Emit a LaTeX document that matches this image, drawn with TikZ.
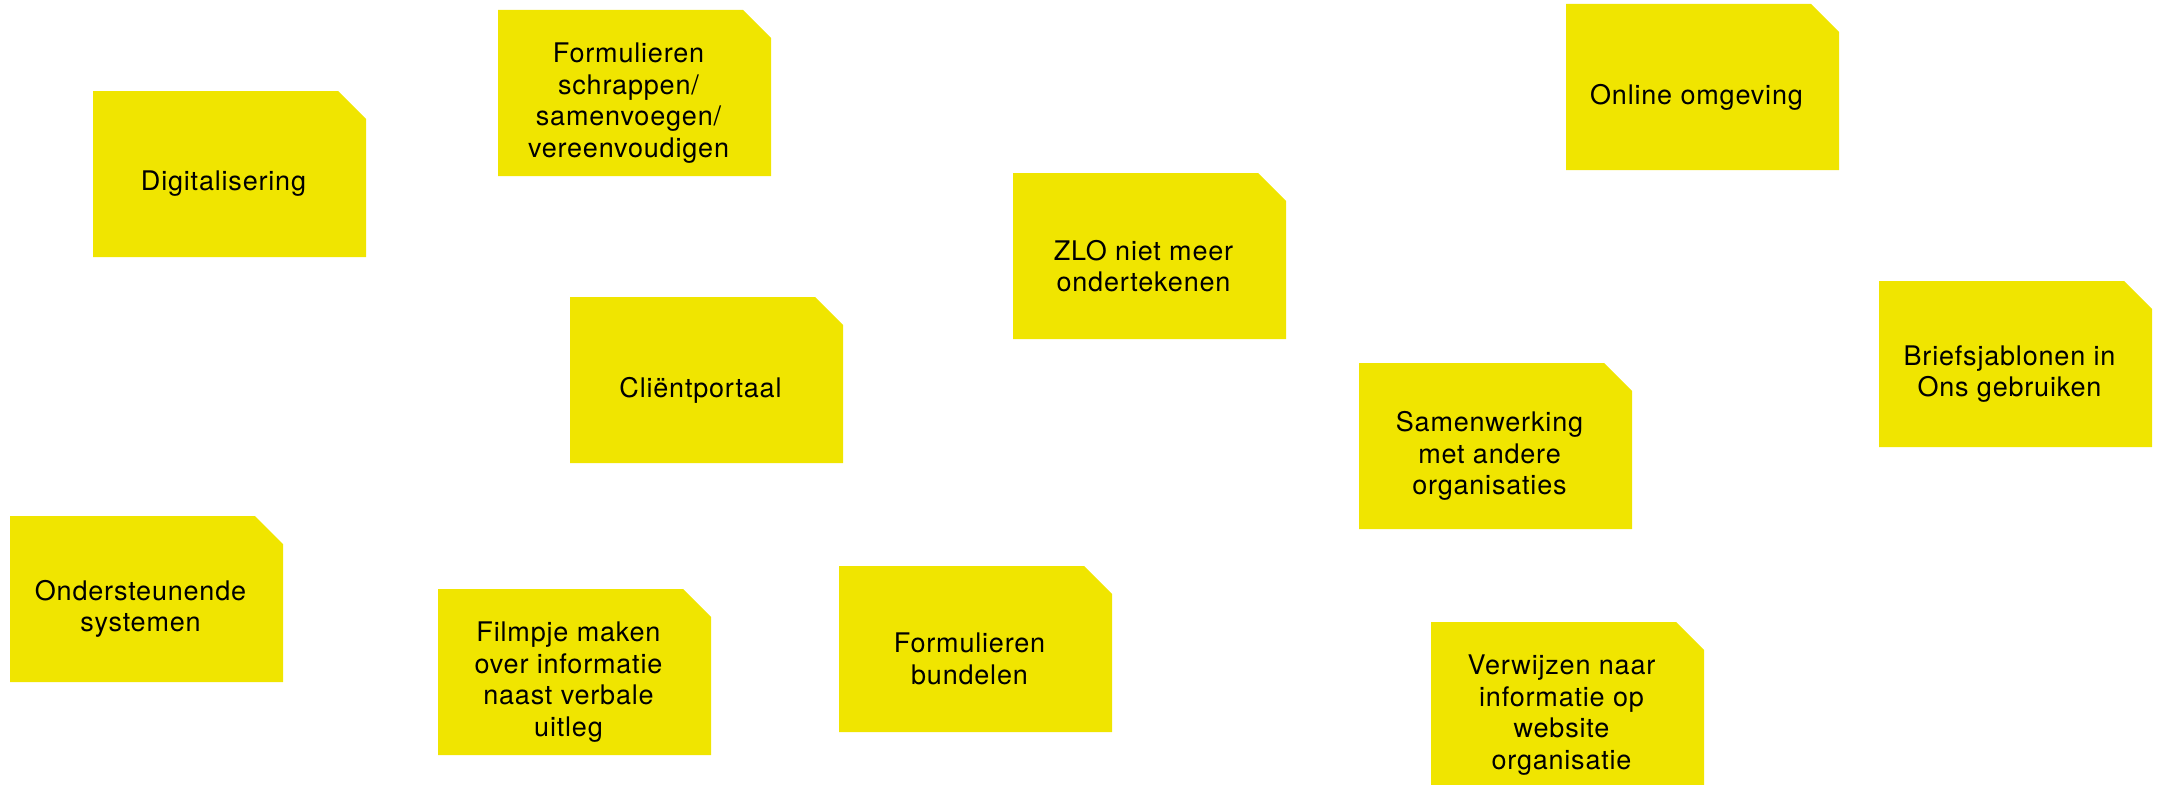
\documentclass[tikz,border=0pt]{standalone}
\usepackage{fontspec}
\newfontfamily\notefont[LetterSpace=3]{TeX Gyre Heros}
\definecolor{notey}{RGB}{240,229,0}

\tikzset{
  notefill/.style={fill=notey, draw=none},
  notetext/.style={font=\notefont\fontsize{27}{31.5}\selectfont,
    align=center, text=black, inner sep=0pt, xshift=-6pt, yshift=-10pt},
}

% sticky note: name, left, top, text (273 x 166 with a clipped top-right corner)
\newcommand\stickynote[4]{%
  \fill[notefill] (#2,#3) -- ++(245,0) -- ++(28,28) -- ++(0,138)
    -- ++(-273,0) -- cycle;
  \node[notetext] (#1) at (#2+136.5,#3+83) {#4};
}

\begin{document}
\begin{tikzpicture}[x=1pt,y=-1pt]
  \useasboundingbox (0,0) rectangle (2162,784);
  \clip (0,0) rectangle (2162,784);

  \stickynote{dig}{93}{91}{Digitalisering}
  \stickynote{schrap}{498}{10}{Formulieren\\schrappen/\\samenvoegen/\\vereenvoudigen}
  \stickynote{online}{1566}{4}{Online omgeving}
  \stickynote{zlo}{1013}{173}{ZLO niet meer\\ondertekenen}
  \stickynote{brief}{1879}{281}{Briefsjablonen in\\Ons gebruiken}
  \stickynote{portaal}{570}{297}{Cliëntportaal}
  \stickynote{samen}{1359}{363}{Samenwerking\\met andere\\organisaties}
  \stickynote{onder}{10}{516}{Ondersteunende\\systemen}
  \stickynote{film}{438}{589}{Filmpje maken\\over informatie\\naast verbale\\uitleg}
  \stickynote{bundel}{839}{566}{Formulieren\\bundelen}
  \stickynote{verwijs}{1431}{622}{Verwijzen naar\\informatie op\\website\\organisatie}
\end{tikzpicture}
\end{document}
